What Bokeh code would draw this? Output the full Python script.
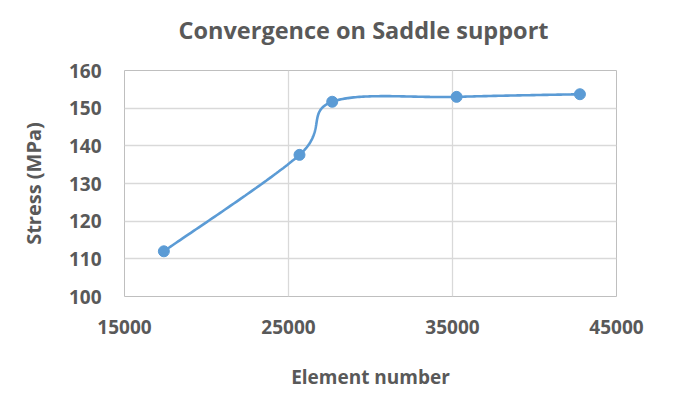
import numpy as np
from bokeh.plotting import figure
from bokeh.models import Range1d, FixedTicker, Title
from bokeh.embed import file_html
from bokeh.resources import INLINE

# Data
elements = [17400, 25670, 27665, 35250, 42770]
stress = [112.0, 137.6, 151.7, 153.0, 153.7]
x_ticks = [15000, 25000, 35000, 45000]
y_ticks = [100, 110, 120, 130, 140, 150, 160]
title_text = "Convergence on Saddle support"

TEXT = "#595959"
BLUE = "#5B9BD5"
FONT = "Open Sans"


def smooth_curve(xs, ys, n=60):
    """Excel-like smoothed line: Catmull-Rom Bezier segments through the data points."""
    px = np.asarray(xs, float)
    py = np.asarray(ys, float)
    m = len(px)
    out_x, out_y = [], []
    t = np.linspace(0, 1, n)
    for i in range(m - 1):
        i0 = max(i - 1, 0)
        i3 = min(i + 2, m - 1)
        p0 = np.array([px[i], py[i]])
        p3 = np.array([px[i + 1], py[i + 1]])
        c1 = p0 + (np.array([px[i + 1], py[i + 1]]) - np.array([px[i0], py[i0]])) / 6.0
        c2 = p3 - (np.array([px[i3], py[i3]]) - np.array([px[i], py[i]])) / 6.0
        b = ((1 - t) ** 3)[:, None] * p0 + (3 * (1 - t) ** 2 * t)[:, None] * c1 \
            + (3 * (1 - t) * t ** 2)[:, None] * c2 + (t ** 3)[:, None] * p3
        out_x.extend(b[:, 0])
        out_y.extend(b[:, 1])
    return out_x, out_y


p = figure(width=666, height=392, output_backend="svg", toolbar_location=None,
           x_range=Range1d(15000, 45000), y_range=Range1d(100, 160),
           title=title_text,
           min_border_left=124, min_border_right=50, min_border_top=70, min_border_bottom=93)

p.title.align = "left"
p.title.offset = 54
p.title.text_font = FONT
p.title.text_font_size = "23.5px"
p.title.text_font_style = "bold"
p.title.text_color = TEXT
p.title.standoff = 0

# blank spacer between the title and the plot area
spacer = Title(text=" ", text_font_size="1px", standoff=22)
p.add_layout(spacer, "above")

p.outline_line_color = "#BFBFBF"
p.outline_line_width = 1
p.background_fill_color = "white"
p.border_fill_color = "white"

for ax in (p.xaxis[0], p.yaxis[0]):
    ax.axis_line_color = None
    ax.major_tick_line_color = None
    ax.minor_tick_line_color = None
    ax.major_label_text_font = FONT
    ax.major_label_text_font_size = "19px"
    ax.major_label_text_font_style = "bold"
    ax.major_label_text_color = TEXT
    ax.axis_label_text_font = FONT
    ax.axis_label_text_font_style = "bold"
    ax.axis_label_text_color = TEXT

p.xaxis[0].axis_label_text_font_size = "19px"
p.yaxis[0].axis_label_text_font_size = "20px"
p.xaxis[0].ticker = FixedTicker(ticks=x_ticks)
p.yaxis[0].ticker = FixedTicker(ticks=y_ticks)
p.xaxis[0].axis_label = "Element number"
p.yaxis[0].axis_label = "Stress (MPa)"
p.xaxis[0].major_label_standoff = 17
p.yaxis[0].major_label_standoff = 17
p.xaxis[0].axis_label_standoff = 27
p.yaxis[0].axis_label_standoff = 19

p.xgrid.ticker = FixedTicker(ticks=x_ticks)
p.ygrid.ticker = FixedTicker(ticks=y_ticks)
p.xgrid.grid_line_color = "#D9D9D9"
p.ygrid.grid_line_color = "#D9D9D9"
p.xgrid.grid_line_width = 1.3
p.ygrid.grid_line_width = 1.3

sx, sy = smooth_curve(elements, stress)
p.line(sx, sy, line_color=BLUE, line_width=2.6)
p.scatter(elements, stress, size=11, marker="circle", fill_color=BLUE, line_color=BLUE)

open("out.html", "w").write(file_html(p, INLINE))
